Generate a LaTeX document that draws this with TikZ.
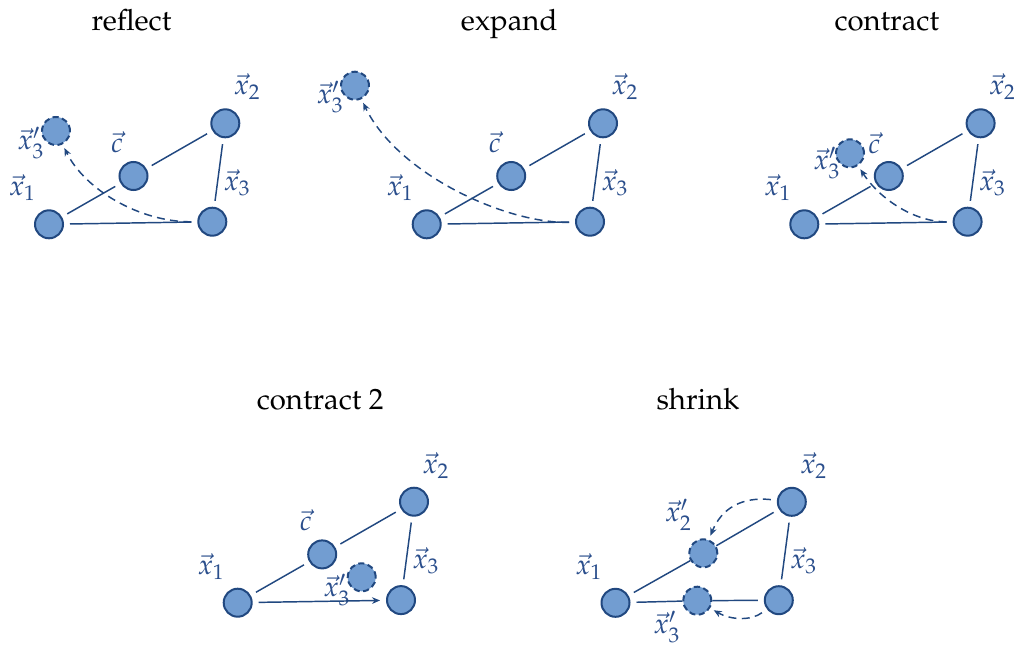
\documentclass[tikz,border=0pt]{standalone}
\usepackage[T1]{fontenc}
\usepackage{mathpazo}
\usetikzlibrary{arrows.meta,calc}
\definecolor{nodefill}{RGB}{114,157,209}
\definecolor{nodeline}{RGB}{33,72,128}
\definecolor{lblcol}{RGB}{42,78,140}
\tikzset{
  pt/.style={circle,draw=nodeline,fill=nodefill,line width=1.5pt,minimum size=21pt,inner sep=0pt},
  ptnew/.style={pt,dash pattern=on 4.6pt off 2.6pt},
  edge/.style={draw=nodeline,line width=1.1pt,shorten <=4.5pt,shorten >=4.5pt},
  move/.style={draw=nodeline,line width=1.1pt,dash pattern=on 6pt off 4pt,-{Stealth[length=6pt,width=5pt]},shorten <=4.5pt,shorten >=3pt},
  lbl/.style={text=lblcol,font=\fontsize{21}{25}\selectfont,inner sep=0pt},
  ttl/.style={font=\fontsize{22}{26}\selectfont,anchor=base,inner sep=0pt}
}
\begin{document}
\begin{tikzpicture}[x=0.75pt,y=-0.75pt]
\useasboundingbox (0,0) rectangle (1021,646);

% ---------- reflect ----------
\begin{scope}
\node[ttl] (ta) at (131.5,31) {reflect};
\node[pt] (a1) at (49,224.3) {};
\node[pt] (ac) at (133.5,176) {};
\node[pt] (a2) at (225.3,123.3) {};
\node[pt] (a3) at (212.3,221.7) {};
\node[ptnew] (a3p) at (56,131) {};
\node[lbl] (la1) at (22.3,188) {$\vec{x}_1$};
\node[lbl] (lac) at (117,142) {$\vec{c}$};
\node[lbl] (la2) at (247,87) {$\vec{x}_2$};
\node[lbl] (la3) at (237,182.5) {$\vec{x}_3$};
\node[lbl] (la3p) at (30.7,143) {$\vec{x}_3'$};
\draw[edge] (a1) -- (ac);
\draw[edge] (ac) -- (a2);
\draw[edge] (a2) -- (a3);
\draw[edge] (a1) -- (a3);
\draw[move] (a3) .. controls (140,222) and (85,190) .. (a3p);
\end{scope}

% ---------- expand ----------
\begin{scope}[shift={(377.7,0)}]
\node[ttl] (tb) at (131.5,31) {expand};
\node[pt] (b1) at (49,224.3) {};
\node[pt] (bc) at (133.5,176) {};
\node[pt] (b2) at (225.3,123.3) {};
\node[pt] (b3) at (212.3,221.7) {};
\node[ptnew] (b3p) at (-22.7,85.7) {};
\node[lbl] (lb1) at (22.3,188) {$\vec{x}_1$};
\node[lbl] (lbc) at (117,142) {$\vec{c}$};
\node[lbl] (lb2) at (247,87) {$\vec{x}_2$};
\node[lbl] (lb3) at (237,182.5) {$\vec{x}_3$};
\node[lbl] (lb3p) at (-47.7,96.7) {$\vec{x}_3'$};
\draw[edge] (b1) -- (bc);
\draw[edge] (bc) -- (b2);
\draw[edge] (b2) -- (b3);
\draw[edge] (b1) -- (b3);
\draw[move] (b3) .. controls (130,224) and (20,175) .. (b3p);
\end{scope}

% ---------- contract ----------
\begin{scope}[shift={(755.3,0)}]
\node[ttl] (tc) at (131.5,31) {contract};
\node[pt] (c1) at (49,224.3) {};
\node[pt] (cc) at (133.5,176) {};
\node[pt] (c2) at (225.3,123.3) {};
\node[pt] (c3) at (212.3,221.7) {};
\node[ptnew] (c3p) at (94.7,153.3) {};
\node[lbl] (lc1) at (22.3,188) {$\vec{x}_1$};
\node[lbl] (lcc) at (119,143.3) {$\vec{c}$};
\node[lbl] (lc2) at (247,87) {$\vec{x}_2$};
\node[lbl] (lc3) at (237,182.5) {$\vec{x}_3$};
\node[lbl] (lc3p) at (71.4,163.3) {$\vec{x}_3'$};
\draw[edge] (c1) -- (cc);
\draw[edge] (cc) -- (c2);
\draw[edge] (c2) -- (c3);
\draw[edge] (c1) -- (c3);
\draw[move] (c3) .. controls (160,222) and (125,200) .. (c3p);
\end{scope}

% ---------- contract 2 ----------
\begin{scope}[shift={(188.7,378.4)}]
\node[ttl] (td) at (131.5,31) {contract 2};
\node[pt] (d1) at (49,224.3) {};
\node[pt] (dc) at (133.5,176) {};
\node[pt] (d2) at (225.3,123.3) {};
\node[pt] (d3) at (212.3,221.7) {};
\node[ptnew] (d3p) at (173,198.9) {};
\node[lbl] (ld1) at (22.3,188) {$\vec{x}_1$};
\node[lbl] (ldc) at (117,142) {$\vec{c}$};
\node[lbl] (ld2) at (247,87) {$\vec{x}_2$};
\node[lbl] (ld3) at (237,182.5) {$\vec{x}_3$};
\node[lbl] (ld3p) at (148,211.6) {$\vec{x}_3'$};
\draw[edge] (d1) -- (dc);
\draw[edge] (dc) -- (d2);
\draw[edge] (d2) -- (d3);
\draw[edge,-{Stealth[length=6pt,width=5pt]}] (d1) -- (d3);
\end{scope}

% ---------- shrink ----------
\begin{scope}[shift={(566.5,378.5)}]
\node[ttl] (te) at (131.5,31) {shrink};
\node[pt] (e1) at (49,224.3) {};
\node[pt] (e2) at (225.3,123.3) {};
\node[pt] (e3) at (212.3,221.7) {};
\node[ptnew] (e2p) at (136.8,174.8) {};
\node[ptnew] (e3p) at (130.8,222.2) {};
\node[lbl] (le1) at (22.3,188) {$\vec{x}_1$};
\node[lbl] (le2) at (247,87) {$\vec{x}_2$};
\node[lbl] (le3) at (237,182.5) {$\vec{x}_3$};
\node[lbl] (le2p) at (111.8,136.5) {$\vec{x}_2'$};
\node[lbl] (le3p) at (100.2,248.2) {$\vec{x}_3'$};
\draw[edge,shorten >=0pt] (e1) -- (e2p);
\draw[edge,shorten <=0pt] (e2p) -- (e2);
\draw[edge] (e2) -- (e3);
\draw[edge,shorten >=0pt] (e1) -- (e3p);
\draw[edge,shorten <=0pt] (e3p) -- (e3);
\draw[move] (e2) .. controls (175,118) and (155,130) .. (e2p);
\draw[move] (e3) .. controls (185,242) and (165,242) .. (e3p);
\end{scope}
\end{tikzpicture}
\end{document}
